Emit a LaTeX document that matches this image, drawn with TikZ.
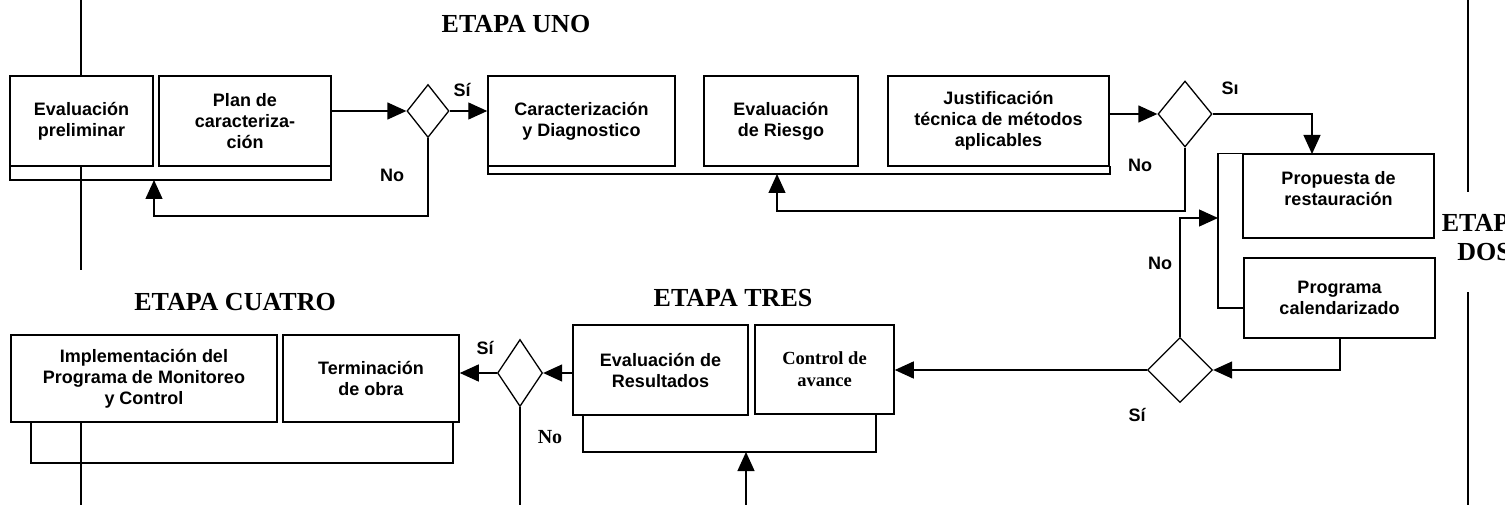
\documentclass[tikz,border=0pt]{standalone}
\usepackage{fontspec}
\setmainfont{Liberation Serif}
\newfontfamily\arialf{Liberation Sans}
\usetikzlibrary{shapes.geometric,arrows.meta}
\begin{document}
\begin{tikzpicture}[x=1pt,y=-1pt,
  ln/.style={line width=1.3pt},
  arr/.style={line width=1.3pt,-{Triangle[length=19pt,width=17pt]}},
  box/.style={draw,line width=1.5pt,fill=white,inner sep=0pt,align=center,
    font=\arialf\bfseries\fontsize{18}{21}\selectfont},
  dia/.style={draw,diamond,line width=1.3pt,fill=white,inner sep=0pt},
  lbl/.style={font=\arialf\bfseries\fontsize{18}{21}\selectfont,inner sep=0pt},
  etapa/.style={font=\bfseries\fontsize{26}{29}\selectfont,align=center,inner sep=0pt},
]
\useasboundingbox (0,0) rectangle (1505,505);

% stage separator lines
\draw[ln] (81,0) -- (81,270);
\draw[ln] (81,422) -- (81,505);
\draw[ln] (1468,0) -- (1468,192);
\draw[ln] (1468,292) -- (1468,505);

% group strips
\draw[ln] (10,166) -- (10,180) -- (331,180) -- (331,166);
\draw[ln] (488,166) -- (488,174) -- (1110,174) -- (1110,166);
\draw[ln] (583,415) -- (583,452) -- (876,452) -- (876,414);
\draw[ln] (31,422) -- (31,463) -- (453,463) -- (453,422);

% boxes
\node[box,minimum width=143pt,minimum height=90pt] (ev) at (81.5,121) {Evaluación\\preliminar};
\node[box,minimum width=172pt,minimum height=90pt] (plan) at (245,121) {Plan de\\caracteriza-\\ción};
\node[box,minimum width=187pt,minimum height=90pt] (car) at (581.5,121) {Caracterización\\y Diagnostico};
\node[box,minimum width=154pt,minimum height=90pt] (ries) at (781,121) {Evaluación\\de Riesgo};
\node[box,minimum width=221pt,minimum height=90pt] (just) at (998.5,121) {Justificación\\técnica de métodos\\aplicables};
\node[box,minimum width=191pt,minimum height=84pt] (prop) at (1338.5,196) {};
\node[lbl,align=center] (proptxt) at (1338.5,189) {Propuesta de\\restauración};
\node[box,minimum width=191pt,minimum height=80pt] (prog) at (1339.5,298) {Programa\\calendarizado};
\node[box,minimum width=139pt,minimum height=89pt,font=\bfseries\fontsize{18.5}{22}\selectfont] (ctrl) at (824.5,369.5) {Control de\\avance};
\node[box,minimum width=175pt,minimum height=90pt] (res) at (660.5,370) {Evaluación de\\Resultados};
\node[box,minimum width=266pt,minimum height=87pt] (impl) at (144,378.5) {Implementación del\\Programa de Monitoreo\\y Control};
\node[box,minimum width=176pt,minimum height=87pt] (term) at (371,378.5) {Terminación\\de obra};

% decisions
\node[dia,minimum width=42pt,minimum height=53pt] (d1) at (428,111) {};
\node[dia,minimum width=54pt,minimum height=66pt] (d2) at (1185,114) {};
\node[dia,minimum width=65pt,minimum height=65pt] (d3) at (1180,370) {};
\node[dia,minimum width=45pt,minimum height=67pt] (d4) at (520,373) {};

% helper coordinates
\coordinate (fb1) at (154,180);
\coordinate (fb1c) at (154,216);
\coordinate (fb2) at (777,174);
\coordinate (fb2c) at (777,211);
\coordinate (sp) at (1312,154);
\coordinate (brk) at (1218,308);
\coordinate (nar) at (1218,218);
\coordinate (pg) at (1340,338);
\coordinate (d4b) at (520,505);
\coordinate (ua) at (746,505);
\coordinate (ub) at (746,452);

% connectors
\draw[arr] (plan.east |- d1.west) -- (d1.west);
\draw[arr] (d1.east) -- (d1.east -| car.west);
\draw[arr] (d1.south) |- (fb1c) -- (fb1);
\draw[arr] (just.east |- d2.west) -- (d2.west);
\draw[arr] (d2.east) -| (sp);
\draw[arr] (d2.south) |- (fb2c) -- (fb2);
\draw[ln] (prop.north west) -| (brk) -- (brk -| prog.west);
\draw[arr] (d3.north) |- (nar);
\draw[arr] (pg) |- (d3.east);
\draw[arr] (d3.west) -- (d3.west -| ctrl.east);
\draw[arr] (res.west |- d4.east) -- (d4.east);
\draw[arr] (d4.west) -- (d4.west -| term.east);
\draw[ln] (d4.south) -- (d4b);
\draw[arr] (ua) -- (ub);

% labels
\node[lbl] (l1) at (462,90) {Sí};
\node[lbl] (l2) at (392,175) {No};
\node[lbl] (l3) at (1230,88) {Sı};
\node[lbl] (l4) at (1140,165) {No};
\node[lbl] (l5) at (1160,263) {No};
\node[lbl] (l6) at (1137,415) {Sí};
\node[lbl] (l7) at (485,348) {Sí};
\node[lbl,font=\bfseries\fontsize{20}{22}\selectfont] (l8) at (550,437) {No};

% stage titles
\node[etapa] (e1) at (516,24) {ETAPA UNO};
\node[etapa] (e4) at (235,302) {ETAPA CUATRO};
\node[etapa] (e3) at (733,298) {ETAPA TRES};
\node[etapa] (e2) at (1484,237.5) {ETAPA\\DOS};
\end{tikzpicture}
\end{document}
